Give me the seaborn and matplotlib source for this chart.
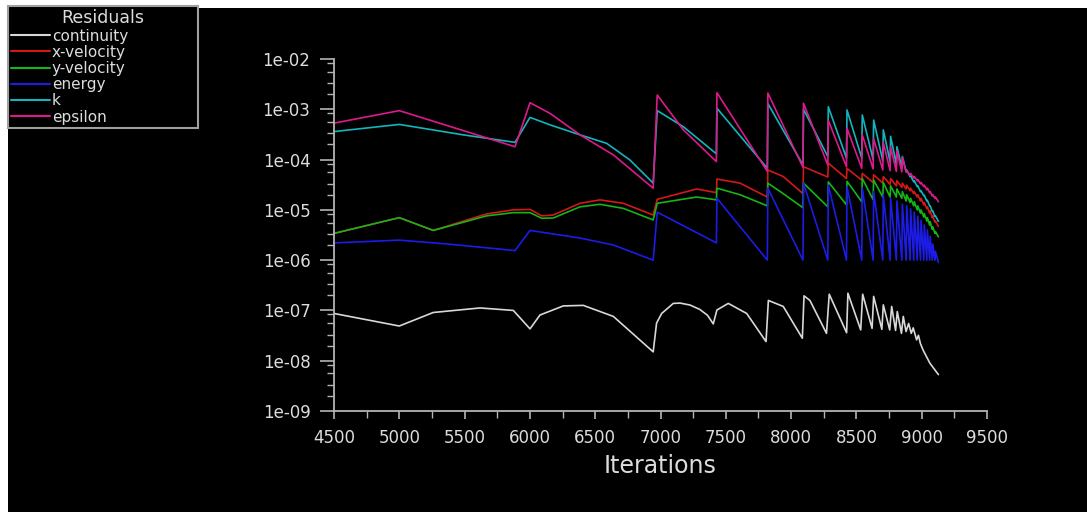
import matplotlib.pyplot as plt
import seaborn as sns
import pandas as pd
from matplotlib.ticker import MultipleLocator, LogLocator, FuncFormatter, NullFormatter
from matplotlib.patches import Rectangle
from matplotlib.lines import Line2D

# Iterations at which the residuals jump (new time step)
restarts = [6975, 7432, 7822, 8095, 8285, 8428, 8545, 8632, 8706, 8762, 8810, 8852,
            8885, 8915, 8943, 8970, 8995, 9020, 9043, 9065, 9085, 9105]
end_iter = 9128

# Part before the first restart (iteration, residual)
eps_early = [(4500, 5.3e-4), (5000, 9.4e-4), (5886, 1.8e-4), (6001, 1.35e-3), (6154, 8.3e-4),
             (6384, 3.1e-4), (6639, 1.24e-4), (6944, 2.7e-5)]
k_early = [(4500, 3.6e-4), (5000, 5.0e-4), (5490, 3.1e-4), (5886, 2.2e-4), (6001, 6.9e-4),
           (6154, 4.9e-4), (6384, 3.1e-4), (6588, 2.1e-4), (6766, 9.8e-5), (6944, 3.4e-5)]
xvel_early = [(4500, 3.4e-6), (5000, 7.0e-6), (5260, 3.9e-6), (5669, 8.3e-6), (5873, 1.0e-5),
              (6001, 1.02e-5), (6090, 7.6e-6), (6179, 7.9e-6), (6384, 1.35e-5), (6537, 1.58e-5),
              (6715, 1.35e-5), (6944, 7.9e-6)]
yvel_early = [(4500, 3.4e-6), (5000, 7.0e-6), (5260, 3.9e-6), (5669, 7.6e-6), (5873, 8.8e-6),
              (6001, 8.8e-6), (6090, 6.8e-6), (6179, 6.9e-6), (6384, 1.15e-5), (6537, 1.29e-5),
              (6715, 1.07e-5), (6944, 6.3e-6)]
energy_early = [(4500, 2.2e-6), (5000, 2.5e-6), (5363, 2.1e-6), (5886, 1.55e-6), (6001, 3.9e-6),
                (6384, 2.75e-6), (6639, 2.0e-6), (6944, 1.0e-6)]

# Value right after each restart (peak) and just before the next one (trough)
eps_peak = [1.92e-3, 2.14e-3, 2.1e-3, 1.32e-3, 6.0e-4, 4.2e-4, 3.1e-4, 2.6e-4, 2.2e-4, 1.8e-4, 1.5e-4,
            1.1e-4, 6.0e-5, 5.3e-5, 4.6e-5, 4.0e-5, 3.5e-5, 3.1e-5, 2.7e-5, 2.3e-5, 2.0e-5, 1.8e-5]
eps_trough = [9.1e-5, 5.8e-5, 7.0e-5, 7.8e-5, 7.2e-5, 6.7e-5, 6.5e-5, 6.2e-5, 6.0e-5, 5.8e-5, 5.7e-5,
              5.6e-5, 4.9e-5, 4.3e-5, 3.8e-5, 3.3e-5, 2.9e-5, 2.5e-5, 2.2e-5, 1.9e-5, 1.7e-5, 1.45e-5]
k_peak = [9.4e-4, 1.05e-3, 1.3e-3, 1.0e-3, 1.12e-3, 9.7e-4, 7.7e-4, 6.1e-4, 3.9e-4, 2.9e-4, 1.8e-4,
          1.15e-4, 6.2e-5, 4.8e-5, 3.8e-5, 3.0e-5, 2.4e-5, 1.95e-5, 1.55e-5, 1.2e-5, 9.5e-6, 7.6e-6]
k_trough = [1.3e-4, 6.7e-5, 7.8e-5, 1.15e-4, 1.07e-4, 1.07e-4, 1.0e-4, 9.5e-5, 9.0e-5, 8.0e-5, 7.0e-5,
            5.8e-5, 4.6e-5, 3.6e-5, 2.9e-5, 2.3e-5, 1.9e-5, 1.5e-5, 1.2e-5, 9.3e-6, 7.4e-6, 5.9e-6]
xvel_peak = [1.62e-5, 4.1e-5, 6.2e-5, 7.2e-5, 8.5e-5, 6.7e-5, 5.3e-5, 5.0e-5, 4.6e-5, 4.2e-5, 3.8e-5,
             3.4e-5, 3.1e-5, 2.7e-5, 2.3e-5, 2.0e-5, 1.7e-5, 1.4e-5, 1.15e-5, 9.5e-6, 7.6e-6, 6.0e-6]
xvel_trough = [2.2e-5, 1.8e-5, 2.1e-5, 4.5e-5, 4.2e-5, 3.9e-5, 3.5e-5, 3.4e-5, 3.2e-5, 3.0e-5, 2.8e-5,
               2.6e-5, 2.4e-5, 2.1e-5, 1.8e-5, 1.5e-5, 1.25e-5, 1.05e-5, 8.6e-6, 7.0e-6, 5.7e-6, 4.7e-6]
yvel_peak = [1.35e-5, 2.7e-5, 3.4e-5, 3.4e-5, 3.6e-5, 3.7e-5, 4.2e-5, 3.9e-5, 3.5e-5, 3.0e-5, 2.6e-5,
             2.3e-5, 2.0e-5, 1.7e-5, 1.45e-5, 1.2e-5, 1.0e-5, 8.4e-6, 7.0e-6, 5.8e-6, 4.6e-6, 3.7e-6]
yvel_trough = [1.58e-5, 1.2e-5, 1.1e-5, 1.15e-5, 1.26e-5, 1.45e-5, 1.6e-5, 1.8e-5, 1.8e-5, 1.8e-5, 1.7e-5,
               1.5e-5, 1.4e-5, 1.2e-5, 1.0e-5, 8.6e-6, 7.2e-6, 6.0e-6, 5.0e-6, 4.1e-6, 3.4e-6, 2.9e-6]
energy_peak = [9.0e-6, 1.7e-5, 2.7e-5, 3.4e-5, 3.1e-5, 2.9e-5, 2.7e-5, 2.3e-5, 2.0e-5, 1.7e-5, 1.5e-5,
               1.3e-5, 1.2e-5, 1.05e-5, 9.0e-6, 7.5e-6, 6.2e-6, 5.0e-6, 4.0e-6, 3.0e-6, 2.1e-6, 1.5e-6]
energy_trough = [2.2e-6, 1e-6, 1e-6, 1e-6, 1e-6, 1e-6, 1e-6, 1e-6, 1e-6, 1e-6, 1e-6,
                 1e-6, 1e-6, 1e-6, 1e-6, 1e-6, 1e-6, 1e-6, 1e-6, 1e-6, 1e-6, 9e-7]

# Points inside the first teeth where the curve bends
eps_mid = [(7175, 3.9e-4)]
k_mid = [(7175, 4.5e-4)]
xvel_mid = [(7277, 2.6e-5), (7609, 3.4e-5), (7940, 4.6e-5)]
yvel_mid = [(7277, 1.8e-5), (7609, 2.0e-5), (7940, 2.1e-5)]

# Continuity is smoother, read point by point
cont_iter = [4500, 5000, 5260, 5618, 5873, 6001, 6077, 6256, 6409, 6639, 6944, 6970, 7009, 7098,
             7150, 7226, 7300, 7360, 7404, 7432, 7519, 7660, 7808, 7826, 7940, 8086, 8099, 8144,
             8271, 8292, 8425, 8435, 8533, 8548, 8620, 8632, 8695, 8706, 8755, 8770, 8800, 8813,
             8845, 8859, 8880, 8900, 8920, 8935, 8961, 8975, 8990, 9012, 9063, 9128]
cont_val = [8.7e-8, 4.9e-8, 9.1e-8, 1.12e-7, 1.0e-7, 4.3e-8, 8.1e-8, 1.23e-7, 1.26e-7, 7.6e-8, 1.5e-8,
            5.6e-8, 8.7e-8, 1.38e-7, 1.4e-7, 1.28e-7, 1.05e-7, 8.0e-8, 5.4e-8, 1.02e-7, 1.38e-7, 8.7e-8,
            2.4e-8, 1.58e-7, 1.2e-7, 2.8e-8, 1.95e-7, 1.58e-7, 3.5e-8, 2.1e-7, 3.6e-8, 2.2e-7, 4.1e-8,
            2.1e-7, 4.4e-8, 1.9e-7, 4.2e-8, 1.29e-7, 4.1e-8, 1.2e-7, 4.0e-8, 9.5e-8, 3.5e-8, 7.6e-8,
            3.8e-8, 5.5e-8, 3.5e-8, 4.5e-8, 2.6e-8, 3.2e-8, 2.2e-8, 1.6e-8, 8.9e-9, 5.3e-9]

names = ['continuity', 'x-velocity', 'y-velocity', 'energy', 'k', 'epsilon']
colors = {'continuity': '#d8d8d8', 'x-velocity': '#d41818', 'y-velocity': '#16b416',
          'energy': '#1c1ce6', 'k': '#14b4be', 'epsilon': '#dc1a8c'}


def build(early, peaks, troughs, extra=()):
    pts = list(early) + list(extra)
    stops = [s - 4 for s in restarts[1:]] + [end_iter]
    for r, s, p, t in zip(restarts, stops, peaks, troughs):
        pts.append((r, p))
        pts.append((s, t))
    return sorted(pts)


series = {
    'continuity': list(zip(cont_iter, cont_val)),
    'x-velocity': build(xvel_early, xvel_peak, xvel_trough, xvel_mid),
    'y-velocity': build(yvel_early, yvel_peak, yvel_trough, yvel_mid),
    'energy': build(energy_early, energy_peak, energy_trough),
    'k': build(k_early, k_peak, k_trough, k_mid),
    'epsilon': build(eps_early, eps_peak, eps_trough, eps_mid),
}
rows = [(it, v, n) for n in names for it, v in series[n]]
df = pd.DataFrame(rows, columns=['Iterations', 'Residual', 'series'])

sns.set_theme(style='ticks')
plt.rcParams['font.family'] = ['DejaVu Sans']
txt = '#dcdcdc'

fig = plt.figure(figsize=(10.87, 5.12), dpi=100, facecolor='white')
fig.patches.append(Rectangle((8 / 1087, 0), 1, 1 - 8 / 512, transform=fig.transFigure,
                             facecolor='black', edgecolor='none', zorder=-10))
ax = fig.add_axes([334 / 1087, 1 - 411 / 512, (987 - 334) / 1087, (411 - 59) / 512])
ax.set_facecolor('black')

sns.lineplot(data=df, x='Iterations', y='Residual', hue='series', hue_order=names,
             palette=colors, estimator=None, sort=False, lw=1.2, legend=False, ax=ax)

ax.set_yscale('log')
ax.set_ylim(1e-9, 1e-2)
ax.set_xlim(4500, 9500)
ax.xaxis.set_major_locator(MultipleLocator(500))
ax.xaxis.set_minor_locator(MultipleLocator(250))
ax.yaxis.set_major_locator(LogLocator(base=10, numticks=20))
ax.yaxis.set_minor_locator(LogLocator(base=10, subs=(2, 3.3, 5.6, 8.3), numticks=20))
ax.yaxis.set_major_formatter(FuncFormatter(lambda v, p: f'{v:.0e}'))
ax.yaxis.set_minor_formatter(NullFormatter())

for s in ['top', 'right']:
    ax.spines[s].set_visible(False)
for s in ['left', 'bottom']:
    ax.spines[s].set_color('#b4b4b4')
    ax.spines[s].set_linewidth(1.3)

ax.tick_params(which='both', direction='out', color='#b4b4b4', labelcolor=txt, labelsize=12)
ax.tick_params(axis='y', which='major', length=10, width=1.2, pad=7)
ax.tick_params(axis='y', which='minor', length=5, width=1.0)
ax.tick_params(axis='x', which='major', length=6, width=1.2, pad=7)
ax.tick_params(axis='x', which='minor', length=5, width=1.0)
ax.grid(False)

ax.set_xlabel('Iterations', fontsize=17, color=txt, labelpad=5)
ax.set_ylabel('')

handles = [Line2D([], [], color=colors[n], lw=1.5) for n in names]
leg = fig.legend(handles, names, title='Residuals', loc='upper left',
                 bbox_to_anchor=(8 / 1087, 1 - 6 / 512, 190 / 1087, 0), bbox_transform=fig.transFigure,
                 mode='expand', borderaxespad=0, borderpad=0.22, labelspacing=0.08,
                 handlelength=2.5, handletextpad=0.15, fontsize=11, title_fontsize=12.5,
                 frameon=True, fancybox=False, facecolor='black', edgecolor='#a0a0a0',
                 framealpha=1, labelcolor=txt)
leg.get_title().set_color(txt)
leg.get_frame().set_linewidth(1.5)

fig.savefig('out.png', dpi=100, facecolor=fig.get_facecolor())
